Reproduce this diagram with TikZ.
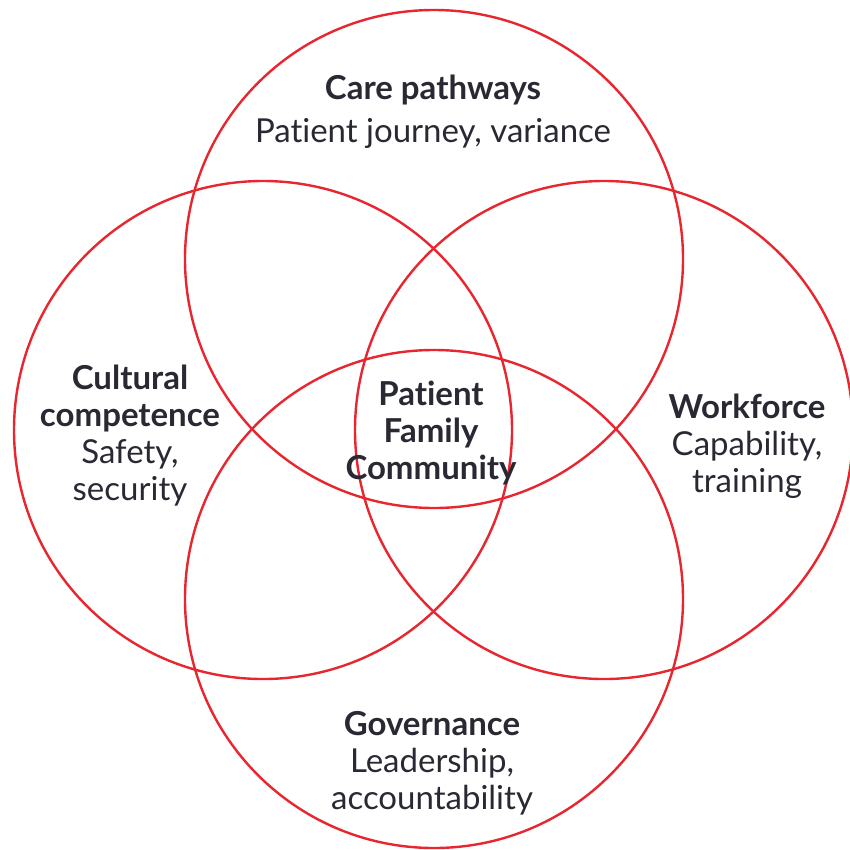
\documentclass[tikz,border=0pt]{standalone}
\usepackage{fontspec}
\setmainfont{Lato}[Ligatures=NoCommon]
\usetikzlibrary{positioning}
\definecolor{vennred}{HTML}{E8262F}
\definecolor{venntext}{HTML}{2A2833}

\begin{document}
\begin{tikzpicture}[x=1pt, y=-1pt,
    venncircle/.style={draw=vennred, line width=2.4pt, circle, minimum size=498pt, inner sep=0pt},
    areatext/.style={text=venntext, align=center, font=\fontsize{33}{37}\selectfont}]
    \useasboundingbox (0,0) rectangle (850,849);

    \node[venncircle] (care) at (434,259) {};
    \node[venncircle] (culture) at (263,430) {};
    \node[venncircle] (workforce) at (604,430) {};
    \node[venncircle] (governance) at (434,599) {};

    \node[areatext] (caretext) at (433,112) {\textbf{Care pathways}\\[6pt]Patient journey, variance};
    \node[areatext] (culturetext) at (130,436) {\textbf{Cultural}\\\textbf{competence}\\Safety,\\security};
    \node[areatext] (workforcetext) at (747,446) {\textbf{Workforce}\\Capability,\\training};
    \node[areatext] (governancetext) at (432,763) {\textbf{Governance}\\Leadership,\\accountability};
    \node[areatext] (patienttext) at (431,433) {\textbf{Patient}\\\textbf{Family}\\\textbf{Community}};
\end{tikzpicture}
\end{document}
